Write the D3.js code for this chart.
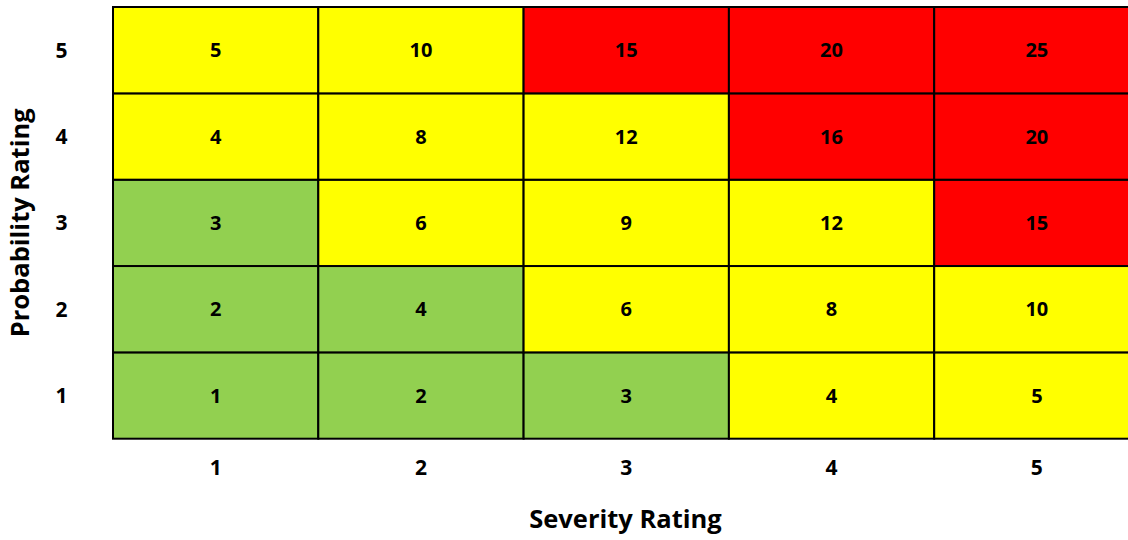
<!DOCTYPE html>
<html>
<head>
<meta charset="utf-8">
<script src="https://cdn.jsdelivr.net/npm/d3@7"></script>
<style>
  html, body { margin: 0; padding: 0; background: #fff; }
  svg { display: block; }
  text { font-family: "Open Sans", Lato, "Liberation Sans", sans-serif; font-weight: bold; fill: #000; }
</style>
</head>
<body>
<svg id="chart" width="1128" height="540"></svg>
<script>
// Rating scales
const severity = [1, 2, 3, 4, 5];
const probability = [1, 2, 3, 4, 5];

// Risk band of each cell, rows listed from probability 1 up to 5, columns severity 1..5
const bandRows = [
  ["low",  "low",  "low",  "mid",  "mid"],
  ["low",  "low",  "mid",  "mid",  "mid"],
  ["low",  "mid",  "mid",  "mid",  "high"],
  ["mid",  "mid",  "mid",  "high", "high"],
  ["mid",  "mid",  "high", "high", "high"]
];

// Score shown in each cell, same layout
const scoreRows = [
  [1, 2, 3, 4, 5],
  [2, 4, 6, 8, 10],
  [3, 6, 9, 12, 15],
  [4, 8, 12, 16, 20],
  [5, 10, 15, 20, 25]
];

const bandColor = { low: "#92D050", mid: "#FFFF00", high: "#FF0000" };

const svg = d3.select("#chart");
const gridLeft = 113, gridRight = 1139.5, gridTop = 7, gridBottom = 438.7;

const x = d3.scaleBand().domain(severity).range([gridLeft, gridRight]).padding(0);
const y = d3.scaleBand().domain(probability.slice().reverse()).range([gridTop, gridBottom]).padding(0);

const cells = [];
probability.forEach((p, i) => {
  severity.forEach((s, j) => {
    cells.push({ p, s, band: bandRows[i][j], score: scoreRows[i][j] });
  });
});

const g = svg.append("g");
g.selectAll("rect")
  .data(cells)
  .join("rect")
  .attr("x", d => x(d.s))
  .attr("y", d => y(d.p))
  .attr("width", x.bandwidth())
  .attr("height", y.bandwidth())
  .attr("fill", d => bandColor[d.band])
  .attr("stroke", "#000")
  .attr("stroke-width", 2);

g.selectAll("text.score")
  .data(cells)
  .join("text")
  .attr("class", "score")
  .attr("x", d => x(d.s) + x.bandwidth() / 2)
  .attr("y", d => y(d.p) + y.bandwidth() / 2)
  .attr("dy", "0.36em")
  .attr("text-anchor", "middle")
  .style("font-size", "20px")
  .text(d => d.score);

// Axes (labels only, no lines)
const xAxis = svg.append("g")
  .attr("transform", `translate(0,${gridBottom})`)
  .call(d3.axisBottom(x).tickSize(0));
xAxis.select(".domain").remove();
xAxis.selectAll("text")
  .attr("y", 36)
  .attr("dy", 0)
  .attr("font-family", null)
  .style("font-size", "21px");

const yAxis = svg.append("g")
  .attr("transform", `translate(${gridLeft},0)`)
  .call(d3.axisLeft(y).tickSize(0));
yAxis.select(".domain").remove();
yAxis.attr("text-anchor", null);
yAxis.selectAll("text")
  .attr("x", 61.5 - gridLeft)
  .attr("dy", "0.36em")
  .attr("text-anchor", "middle")
  .attr("font-family", null)
  .style("font-size", "21px");

// Axis titles
svg.append("text")
  .attr("x", 625.5)
  .attr("y", 528)
  .attr("text-anchor", "middle")
  .style("font-size", "25.5px")
  .text("Severity Rating");

svg.append("text")
  .attr("transform", `translate(29,${(gridTop + gridBottom) / 2}) rotate(-90)`)
  .attr("text-anchor", "middle")
  .style("font-size", "25.5px")
  .text("Probability Rating");
</script>
</body>
</html>
